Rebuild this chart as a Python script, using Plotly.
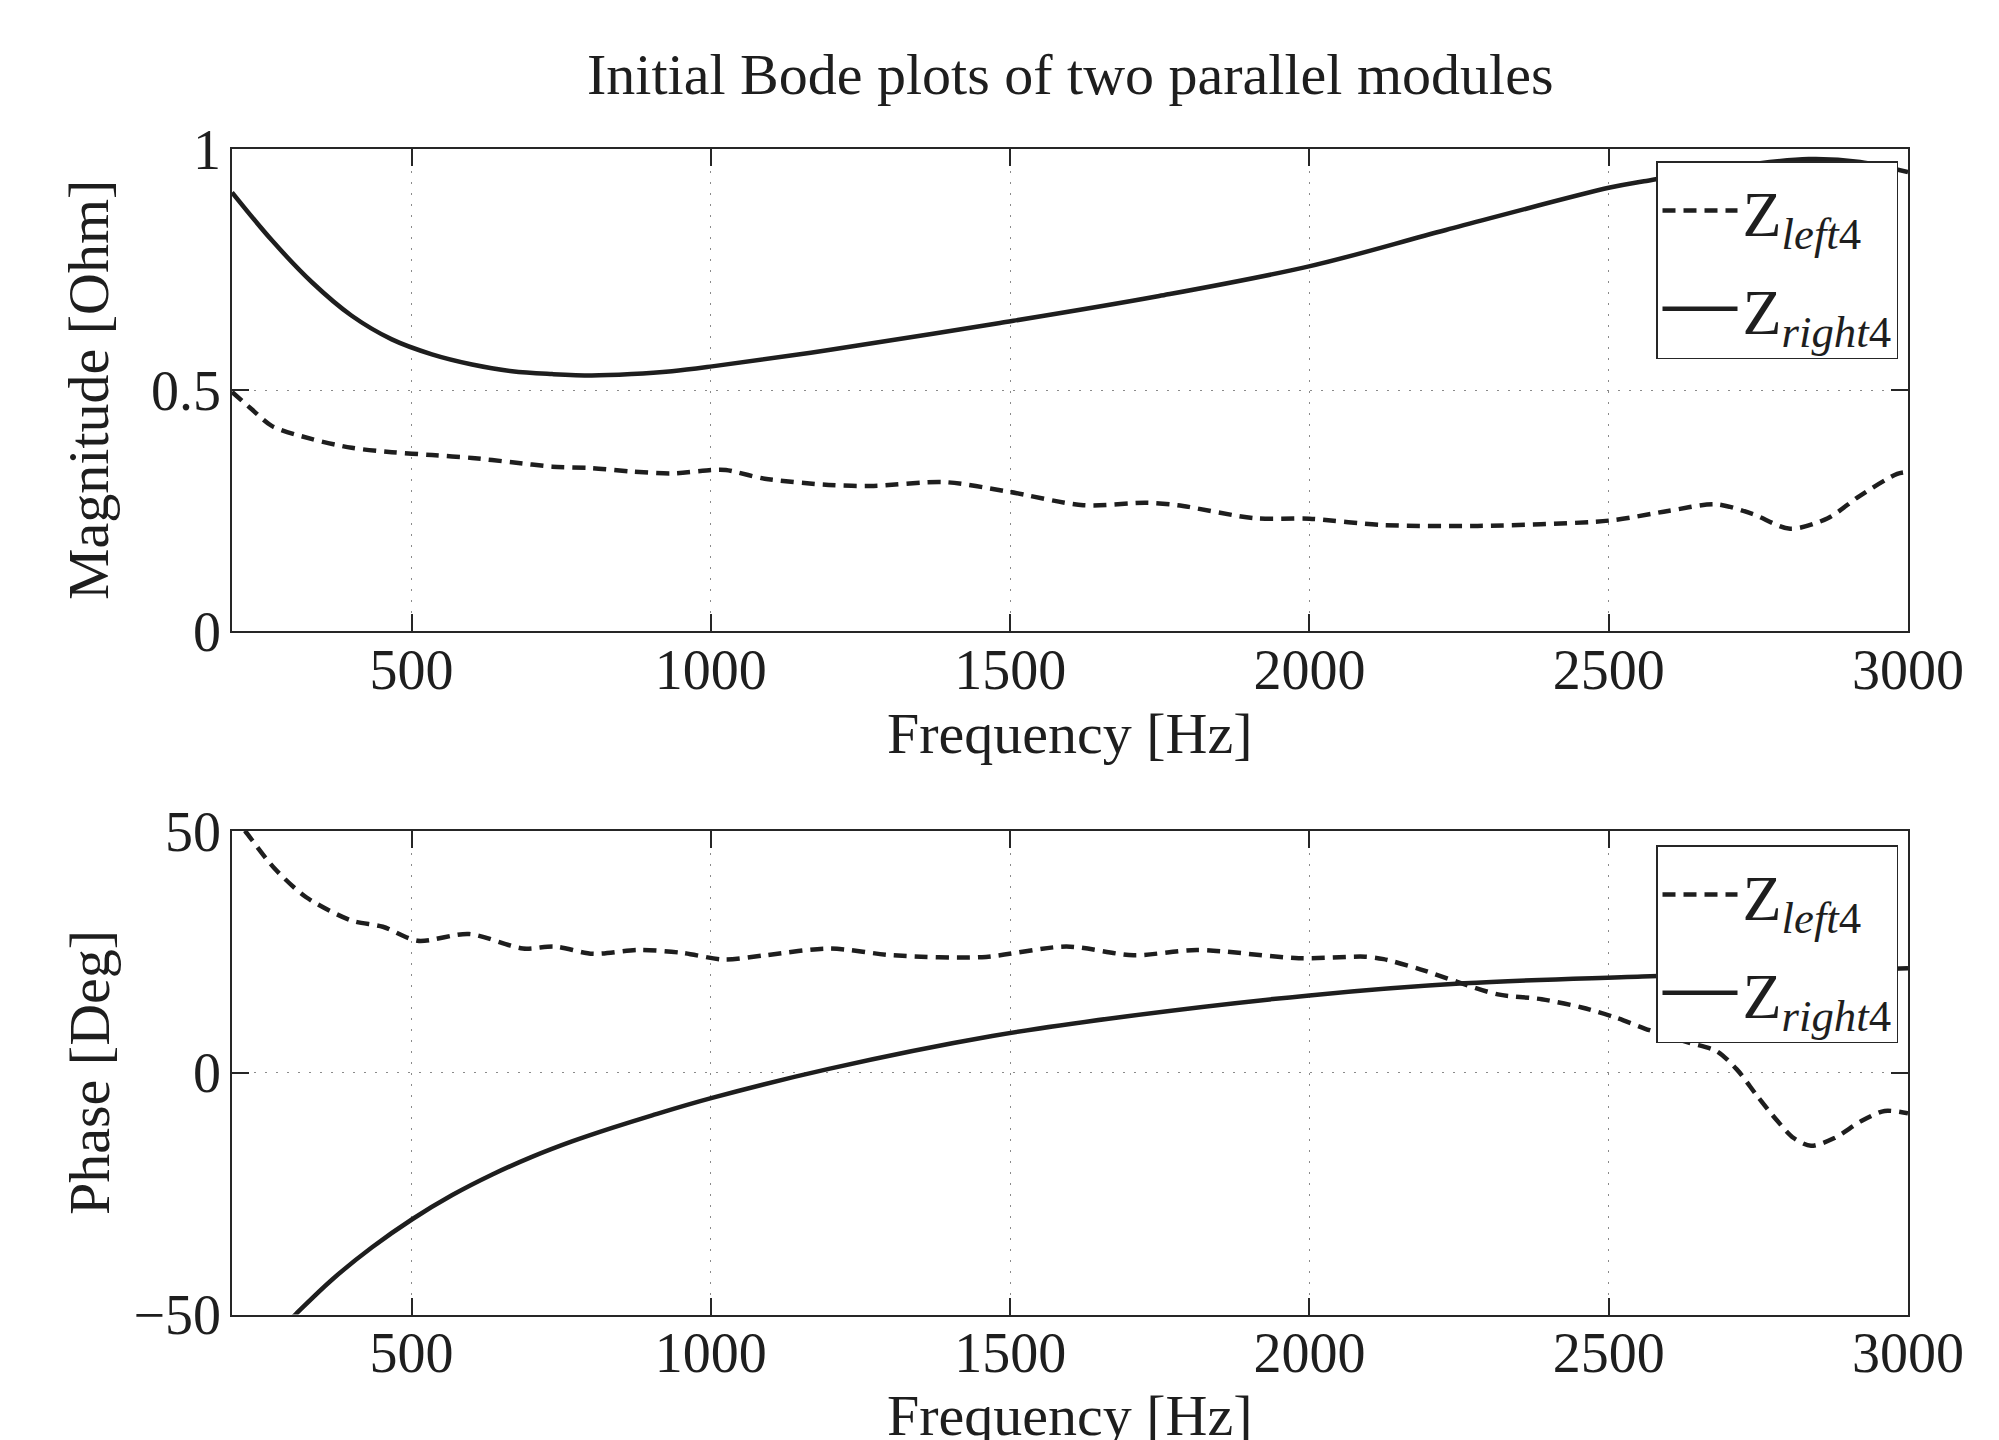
import plotly.graph_objects as go

# ---------------- data ----------------
mag_right_f = [200, 267, 334, 400, 467, 534, 601, 668, 735, 801, 868, 935, 1002,
               1197, 1483, 1749, 2001, 2228, 2502, 2559, 2700, 2834, 2920, 3000]
mag_right_v = [0.910, 0.810, 0.723, 0.654, 0.605, 0.574, 0.553, 0.539, 0.533, 0.530,
               0.533, 0.539, 0.549, 0.583, 0.639, 0.695, 0.757, 0.832, 0.920, 0.933,
               0.962, 0.979, 0.973, 0.952]

mag_left_f = [200, 233, 267, 334, 400, 467, 534, 601, 668, 735, 801, 868, 935, 1002,
              1025, 1090, 1197, 1272, 1389, 1493, 1622, 1727, 1780, 1908, 2000, 2121,
              2281, 2500, 2599, 2679, 2740, 2803, 2866, 2919, 2982, 3000]
mag_left_v = [0.496, 0.460, 0.425, 0.398, 0.380, 0.371, 0.365, 0.359, 0.350, 0.341,
              0.338, 0.331, 0.327, 0.334, 0.334, 0.316, 0.303, 0.301, 0.309, 0.290,
              0.261, 0.266, 0.261, 0.234, 0.233, 0.220, 0.218, 0.229, 0.249, 0.263,
              0.243, 0.212, 0.234, 0.280, 0.326, 0.330]

ph_left_f = [200, 222, 270, 324, 399, 452, 510, 596, 686, 739, 803, 878, 952, 1022,
             1091, 1197, 1304, 1453, 1594, 1706, 1812, 1982, 2093, 2124, 2185, 2247,
             2315, 2388, 2455, 2512, 2568, 2635, 2680, 2714, 2748, 2782, 2809, 2838,
             2877, 2922, 2961, 3000]
ph_left_v = [53.5, 50.0, 42.4, 36.3, 31.5, 30.2, 27.3, 28.7, 25.7, 26.1, 24.6, 25.4,
             24.8, 23.4, 24.3, 25.7, 24.3, 23.9, 26.1, 24.3, 25.4, 23.7, 24.0, 23.5,
             21.4, 18.8, 16.2, 15.2, 13.5, 11.4, 8.8, 6.2, 4.5, 0.7, -4.8, -10.0,
             -13.5, -15.1, -13.5, -10.0, -7.9, -8.4]

ph_right_f = [200, 250, 306, 367, 434, 501, 568, 634, 701, 768, 835, 902, 1002,
              1197, 1470, 1696, 2000, 2258, 2556, 3000]
ph_right_v = [-63.8, -57.0, -50.0, -42.8, -36.1, -30.3, -25.3, -21.1, -17.4, -14.2,
              -11.4, -8.8, -5.2, 0.8, 7.6, 11.7, 16.0, 18.5, 19.9, 21.6]

x_ticks = [500, 1000, 1500, 2000, 2500, 3000]
mag_ticks = [0, 0.5, 1]
mag_tick_text = ["0", "0.5", "1"]
ph_ticks = [-50, 0, 50]
ph_tick_text = ["\u221250", "0", "50"]

title_text = "Initial Bode plots of two parallel modules"
name_left = "Z<sub><i>left</i>4</sub>"
name_right = "Z<sub><i>right</i>4</sub>"

# ---------------- styling ----------------
W, H = 1999, 1440
FONT = "Liberation Serif"
INK = "#1e1e1e"
AX = "#262626"
LINE_W = 4.5
DASH = "13px,8px"

def px(v):
    return v / W

def py(v):
    return 1 - v / H

x_dom = [px(232), px(1908)]
top_dom = [py(631), py(149)]
bot_dom = [py(1314.5), py(831)]

def line(dashed, smooth):
    d = dict(color=INK, width=LINE_W, shape="spline", smoothing=smooth)
    if dashed:
        d["dash"] = DASH
    return d

fig = go.Figure()
fig.add_trace(go.Scatter(x=mag_left_f, y=mag_left_v, mode="lines", name=name_left,
                         line=line(True, 0.8), legendgroup="a",
                         xaxis="x", yaxis="y", legend="legend"))
fig.add_trace(go.Scatter(x=mag_right_f, y=mag_right_v, mode="lines", name=name_right,
                         line=line(False, 1.0), legendgroup="b",
                         xaxis="x", yaxis="y", legend="legend"))
fig.add_trace(go.Scatter(x=ph_left_f, y=ph_left_v, mode="lines", name=name_left,
                         line=line(True, 0.8), legendgroup="c",
                         xaxis="x2", yaxis="y2", legend="legend2"))
fig.add_trace(go.Scatter(x=ph_right_f, y=ph_right_v, mode="lines", name=name_right,
                         line=line(False, 1.0), legendgroup="d",
                         xaxis="x2", yaxis="y2", legend="legend2"))

common_axis = dict(showline=True, linecolor=AX, linewidth=1.5, mirror="ticks",
                   ticks="inside", ticklen=17, tickwidth=1.5, tickcolor=AX,
                   showgrid=True, gridcolor="#8a8a8a", gridwidth=1, griddash="1.5px,9.5px",
                   zeroline=False, automargin=False,
                   tickfont=dict(family=FONT, size=56, color=INK))

legend_common = dict(x=px(1898), xanchor="right", yanchor="top",
                     bgcolor="white", bordercolor=AX, borderwidth=1.5,
                     font=dict(family=FONT, size=64, color=INK),
                     itemwidth=75, tracegroupgap=12)

fig.update_layout(
    width=W, height=H,
    margin=dict(l=0, r=0, t=0, b=0, autoexpand=False),
    paper_bgcolor="white", plot_bgcolor="white",
    font=dict(family=FONT, size=56, color=INK),
    showlegend=True,
    xaxis=dict(domain=x_dom, range=[200, 3000], tickvals=x_ticks, anchor="y",
               ticklabelstandoff=-11, **common_axis),
    yaxis=dict(domain=top_dom, range=[0, 1], tickvals=mag_ticks, ticktext=mag_tick_text,
               anchor="x", ticklabelstandoff=-2, **common_axis),
    xaxis2=dict(domain=x_dom, range=[200, 3000], tickvals=x_ticks, anchor="y2",
                ticklabelstandoff=-11, **common_axis),
    yaxis2=dict(domain=bot_dom, range=[-50, 50], tickvals=ph_ticks, ticktext=ph_tick_text,
                anchor="x2", ticklabelstandoff=-2, **common_axis),
    legend=dict(y=py(161), **legend_common),
    legend2=dict(y=py(845), **legend_common),
    annotations=[
        dict(text=title_text, x=px(1070), y=py(74), xref="paper", yref="paper",
             xanchor="center", yanchor="middle", showarrow=False,
             font=dict(family=FONT, size=58, color=INK)),
        dict(text="Magnitude [Ohm]", x=px(89), y=py(390), xref="paper", yref="paper",
             xanchor="center", yanchor="middle", textangle=-90, showarrow=False,
             font=dict(family=FONT, size=58, color=INK)),
        dict(text="Frequency [Hz]", x=px(1070), y=py(733), xref="paper", yref="paper",
             xanchor="center", yanchor="middle", showarrow=False,
             font=dict(family=FONT, size=58, color=INK)),
        dict(text="Phase [Deg]", x=px(89), y=py(1073), xref="paper", yref="paper",
             xanchor="center", yanchor="middle", textangle=-90, showarrow=False,
             font=dict(family=FONT, size=58, color=INK)),
        dict(text="Frequency [Hz]", x=px(1070), y=py(1415), xref="paper", yref="paper",
             xanchor="center", yanchor="middle", showarrow=False,
             font=dict(family=FONT, size=58, color=INK)),
    ],
)

fig.write_html("out.html")
